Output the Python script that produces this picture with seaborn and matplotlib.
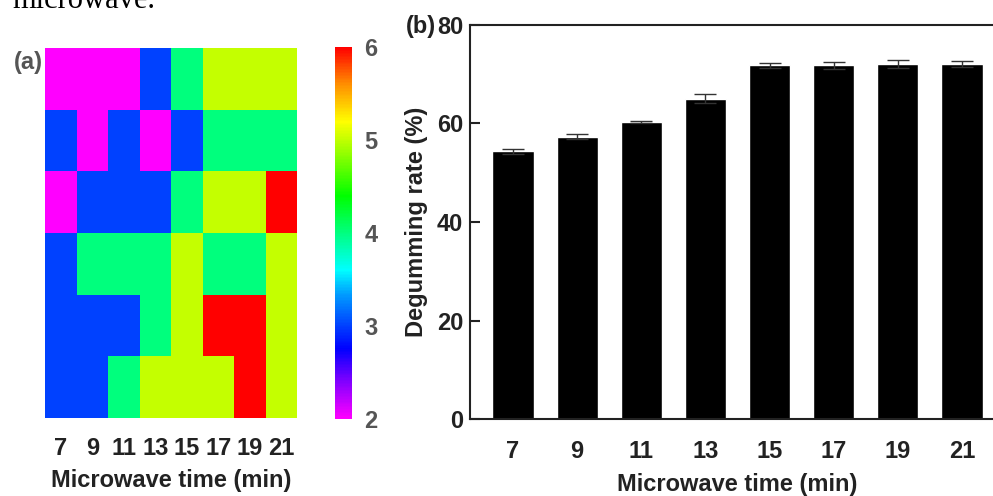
import numpy as np
import pandas as pd
import seaborn as sns
from matplotlib import pyplot as plt
from matplotlib.colors import LinearSegmentedColormap

times = [7, 9, 11, 13, 15, 17, 19, 21]

# (a) level map, 6 rows x 8 microwave times
grid = [
    [2, 2, 2, 3, 4, 5, 5, 5],
    [3, 2, 3, 2, 3, 4, 4, 4],
    [2, 3, 3, 3, 4, 5, 5, 6],
    [3, 4, 4, 4, 5, 4, 4, 5],
    [3, 3, 3, 4, 5, 6, 6, 5],
    [3, 3, 4, 5, 5, 5, 6, 5],
]
cbar_ticks = [2, 3, 4, 5, 6]

# (b) degumming rate (%) and error
rates = [54.4, 57.3, 60.3, 65.0, 71.8, 71.8, 72.0, 72.1]
errs = [0.5, 0.5, 0.3, 0.9, 0.5, 0.7, 0.8, 0.6]
rate_ticks = [0, 20, 40, 60, 80]

# rainbow colour map, magenta (2) -> red (6)
cmap_stops = [2.0, 2.4, 2.75, 3.0, 3.35, 3.6, 4.0, 4.4, 5.0, 5.2, 5.6, 6.0]
cmap_colors = ['#ff00ff', '#8000ff', '#0000ff', '#0040ff', '#00a0ff', '#00ffff',
               '#00ff80', '#00ff00', '#c0ff00', '#ffff00', '#ff9000', '#ff0000']
cmap = LinearSegmentedColormap.from_list(
    'rb', [((s - 2) / 4, c) for s, c in zip(cmap_stops, cmap_colors)])

sns.set_style('white')
plt.rcParams['font.family'] = ['Liberation Sans', 'DejaVu Sans']
plt.rcParams['font.weight'] = 'bold'
plt.rcParams['axes.labelweight'] = 'bold'

W, H = 993, 496
fig = plt.figure(figsize=(W / 100, H / 100), dpi=100)


def box(x0, y0, x1, y1):
    return [x0 / W, 1 - y1 / H, (x1 - x0) / W, (y1 - y0) / H]


ax_a = fig.add_axes(box(45, 48, 297, 418))
cax = fig.add_axes(box(335, 47, 352, 419))
ax_b = fig.add_axes(box(470, 25, 1005, 419))

dark = '#222222'
fs = 17

# (a) heatmap
sns.heatmap(pd.DataFrame(grid, columns=times), cmap=cmap, vmin=2, vmax=6,
            ax=ax_a, cbar_ax=cax, yticklabels=False,
            cbar_kws={'ticks': cbar_ticks})
ax_a.set_xticklabels(times, rotation=0)
ax_a.tick_params(axis='x', length=0, pad=14, labelsize=fs, labelcolor=dark)
ax_a.set_xlabel('Microwave time (min)', fontsize=fs, labelpad=6, color=dark)
ax_a.set_ylabel('')
cax.tick_params(direction='in', color='white', labelcolor='#555555',
                length=4, width=1.2, left=True, right=True, labelsize=fs, pad=9)
fig.text(43 / W, 1 - 62 / H, '(a)', ha='right', va='center', fontsize=fs,
         color='#555555')

# (b) bar chart
sns.barplot(x=times, y=rates, color='black', saturation=1, width=0.64,
            errorbar=None, ax=ax_b)
ax_b.errorbar(x=np.arange(len(times)), y=rates, yerr=errs, fmt='none',
              ecolor='#333333', elinewidth=1, capsize=8, capthick=1)
ax_b.set_xlim(-0.67, 7.67)
ax_b.set_ylim(0, 80)
ax_b.set_yticks(rate_ticks)
for side in ['top', 'left', 'bottom']:
    ax_b.spines[side].set_visible(True)
    ax_b.spines[side].set_linewidth(1.5)
    ax_b.spines[side].set_color(dark)
ax_b.spines['right'].set_visible(False)
ax_b.tick_params(axis='y', direction='in', left=True, length=7, width=1.5,
                 color=dark, pad=5, labelsize=fs, labelcolor=dark)
ax_b.tick_params(axis='x', length=0, pad=15, labelsize=fs, labelcolor=dark)
ax_b.set_xlabel('Microwave time (min)', fontsize=fs, labelpad=7, color=dark)
ax_b.set_ylabel('Degumming rate (%)', fontsize=fs, labelpad=6, color=dark)
fig.text(436 / W, 1 - 26 / H, '(b)', ha='right', va='center', fontsize=fs,
         color=dark)

# caption fragment cut at the top of the page
fig.text(12 / W, 1 - 8 / H, 'microwave.', family=['Liberation Serif', 'DejaVu Serif'],
         fontweight='normal', fontsize=22, va='baseline', color='black')

fig.savefig('out.png', dpi=100)
